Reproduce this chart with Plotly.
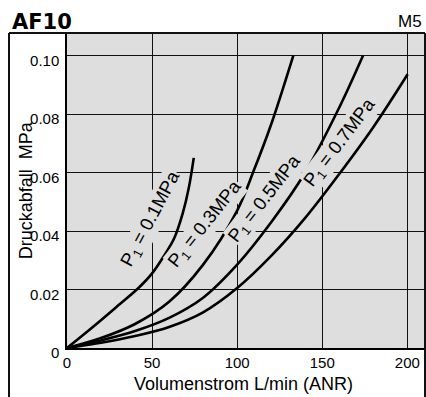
import plotly.graph_objects as go

# Pressure drop vs. flow for AF10 (M5), at four inlet pressures
flow_01 = [0, 15, 30, 42, 50, 57, 63, 68, 71.5, 74.5]
dp_01 = [0, 0.0071, 0.0145, 0.0205, 0.0255, 0.0315, 0.0375, 0.046, 0.0545, 0.065]

flow_03 = [0, 20, 40, 60, 80, 100, 110, 120, 133]
dp_03 = [0, 0.0034, 0.0082, 0.0158, 0.0285, 0.047, 0.061, 0.0765, 0.100]

flow_05 = [0, 20, 40, 60, 80, 100, 120, 140, 160, 174]
dp_05 = [0, 0.0026, 0.0058, 0.0103, 0.0172, 0.0285, 0.043, 0.060, 0.0822, 0.100]

flow_07 = [0, 20, 40, 60, 80, 100, 120, 140, 160, 180, 200.2]
dp_07 = [0, 0.0018, 0.0041, 0.0072, 0.0122, 0.0205, 0.0315, 0.0445, 0.0595, 0.0755, 0.0936]

curve_labels = ["P<sub>1</sub> = 0.1MPa", "P<sub>1</sub> = 0.3MPa",
                "P<sub>1</sub> = 0.5MPa", "P<sub>1</sub> = 0.7MPa"]
label_x = [49.5, 81.5, 116.5, 160.5]
label_y = [0.0440, 0.0423, 0.0508, 0.0700]
label_angle = [-62, -51.5, -52, -53]

x_ticks = [0, 50, 100, 150, 200]
y_ticks = [0, 0.02, 0.04, 0.06, 0.08, 0.10]
y_ticktext = ["0", "0.02", "0.04", "0.06", "0.08", "0.10"]

FONT = "Liberation Sans, Arial, sans-serif"
BG = "#dedede"

fig = go.Figure()
for fx, fy in [(flow_01, dp_01), (flow_03, dp_03), (flow_05, dp_05), (flow_07, dp_07)]:
    fig.add_trace(go.Scatter(
        x=fx, y=fy, mode="lines",
        line=dict(color="black", width=2.6, shape="spline", smoothing=1.0),
        hoverinfo="skip", showlegend=False,
    ))

for txt, lx, ly, ang in zip(curve_labels, label_x, label_y, label_angle):
    fig.add_annotation(x=lx, y=ly, xref="x", yref="y", text=txt, showarrow=False,
                       textangle=ang, bgcolor=BG, borderpad=0,
                       font=dict(family=FONT, size=18.5, color="black"))

# titles
fig.add_annotation(x=-0.1592, y=1.036, xref="paper", yref="paper", text="<b>AF10</b>",
                   showarrow=False, xanchor="left", yanchor="middle",
                   font=dict(family="DejaVu Sans, sans-serif", size=21, color="black"))
fig.add_annotation(x=0.997, y=1.036, xref="paper", yref="paper", text="M5",
                   showarrow=False, xanchor="right", yanchor="middle",
                   font=dict(family=FONT, size=17, color="black"))
fig.add_annotation(x=0.494, y=-0.114, xref="paper", yref="paper",
                   text="Volumenstrom L/min (ANR)", showarrow=False,
                   xanchor="center", yanchor="middle",
                   font=dict(family=FONT, size=18, color="black"))
fig.add_annotation(x=-0.1154, y=0.5, xref="paper", yref="paper",
                   text="Druckabfall  MPa", showarrow=False, textangle=-90,
                   xanchor="center", yanchor="middle",
                   font=dict(family=FONT, size=18, color="black"))

# outer frame
frame = dict(color="#111", width=2)
fig.add_shape(type="line", xref="paper", yref="paper", x0=-0.162, x1=-0.162, y0=1.0, y1=-0.16, line=frame)
fig.add_shape(type="line", xref="paper", yref="paper", x0=-0.162, x1=1.0, y0=1.0, y1=1.0, line=frame)
fig.add_shape(type="line", xref="paper", yref="paper", x0=1.0, x1=1.0, y0=1.0, y1=-0.16, line=frame)

fig.update_xaxes(range=[0, 210.4], tickvals=x_ticks, showgrid=True, gridcolor="#111",
                 gridwidth=1, zeroline=False, showline=True, linecolor="black", linewidth=1.5,
                 ticks="", tickfont=dict(family=FONT, size=15, color="black"))
fig.update_yaxes(range=[0, 0.1077], tickvals=y_ticks, ticktext=y_ticktext, showgrid=True,
                 gridcolor="#111", gridwidth=1, zeroline=False, showline=True,
                 linecolor="black", linewidth=1.5, ticks="", ticklabelshift=5,
                 ticklabelstandoff=3,
                 tickfont=dict(family=FONT, size=15, color="black"))

fig.update_layout(
    width=426, height=397,
    margin=dict(l=67, r=1, t=33, b=49),
    paper_bgcolor="white", plot_bgcolor=BG,
    font=dict(family=FONT, color="black"),
)

fig.write_html("out.html")
